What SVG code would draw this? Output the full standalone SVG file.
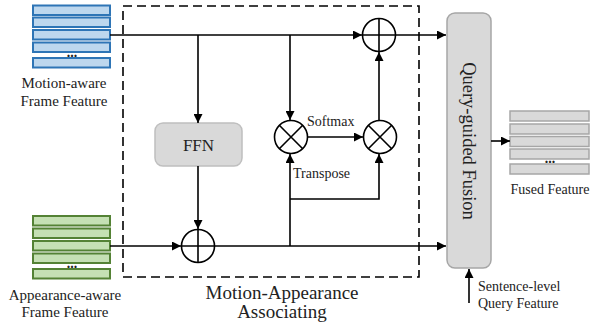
<svg xmlns="http://www.w3.org/2000/svg" width="615" height="329" viewBox="0 0 615 329">
<defs>
<marker id="ah" viewBox="0 0 10 10" refX="10" refY="5" markerWidth="9" markerHeight="9" markerUnits="userSpaceOnUse" orient="auto">
<path d="M0,0 L10,5 L0,10 z" fill="#000"/>
</marker>
</defs>
<style>
.t{font-family:"Liberation Serif","Times New Roman",serif;fill:#222}
.d{font-family:"Liberation Serif",serif;fill:#222;font-size:14px;font-weight:bold}
.bb{fill:#bdd7ee;stroke:#2e75b6;stroke-width:2}
.gb{fill:#c5e0b4;stroke:#548235;stroke-width:2}
.fb{fill:#d9d9d9;stroke:#a6a6a6;stroke-width:1.5}
.ln{fill:none;stroke:#000;stroke-width:1.6}
.op{fill:#fff;stroke:#000;stroke-width:1.6}
.box{fill:#d9d9d9;stroke:#bfbfbf;stroke-width:1.5}
</style>
<rect x="123" y="6" width="296" height="271" fill="none" stroke="#000" stroke-width="1.6" stroke-dasharray="9,5"/>
<g id="motion">
<rect class="bb" x="33" y="5.5" width="77" height="9.5"/>
<rect class="bb" x="33" y="17.5" width="77" height="9.5"/>
<rect class="bb" x="33" y="30" width="77" height="9.5"/>
<rect class="bb" x="33" y="42.5" width="77" height="9.5"/>
<rect class="bb" x="33" y="58" width="77" height="9.5"/>
<text class="d" x="72" y="57" text-anchor="middle">...</text>
<text class="t" x="64" y="88" font-size="15" text-anchor="middle">Motion-aware</text>
<text class="t" x="64" y="106" font-size="15" text-anchor="middle">Frame Feature</text>
</g>
<g id="appearance">
<rect class="gb" x="33" y="216" width="77" height="9.5"/>
<rect class="gb" x="33" y="228.5" width="77" height="9.5"/>
<rect class="gb" x="33" y="241" width="77" height="9.5"/>
<rect class="gb" x="33" y="253.5" width="77" height="9.5"/>
<rect class="gb" x="33" y="269" width="77" height="9.5"/>
<text class="d" x="72" y="268" text-anchor="middle">...</text>
<text class="t" x="65" y="300" font-size="15" text-anchor="middle">Appearance-aware</text>
<text class="t" x="65" y="317" font-size="15" text-anchor="middle">Frame Feature</text>
</g>
<g id="ffn">
<rect class="box" x="155" y="123" width="87" height="43" rx="8"/>
<text class="t" x="198.5" y="151" font-size="17" text-anchor="middle">FFN</text>
</g>
<g id="add1">
<circle class="op" cx="198" cy="246" r="16.5"/>
<path class="ln" d="M181.5,246 H214.5 M198,229.5 V262.5"/>
</g>
<g id="add2">
<circle class="op" cx="379" cy="35" r="16.5"/>
<path class="ln" d="M362.5,35 H395.5 M379,18.5 V51.5"/>
</g>
<g id="mul1">
<circle class="op" cx="291" cy="137" r="16.5"/>
<path class="ln" d="M279.3,125.3 L302.7,148.7 M302.7,125.3 L279.3,148.7"/>
</g>
<g id="mul2">
<circle class="op" cx="380" cy="137" r="16.5"/>
<path class="ln" d="M368.3,125.3 L391.7,148.7 M391.7,125.3 L368.3,148.7"/>
</g>
<g id="fusion">
<rect class="fb" x="447" y="13" width="44" height="255" rx="8"/>
<text class="t" transform="translate(469,141) rotate(90)" font-size="18.5" text-anchor="middle" dominant-baseline="central">Query-guided Fusion</text>
</g>
<g id="fused">
<rect class="fb" x="510" y="111" width="79" height="10"/>
<rect class="fb" x="510" y="124" width="79" height="10"/>
<rect class="fb" x="510" y="136.5" width="79" height="10"/>
<rect class="fb" x="510" y="149" width="79" height="10"/>
<rect class="fb" x="510" y="164" width="79" height="10"/>
<text class="d" x="550" y="163" text-anchor="middle">...</text>
<text class="t" x="550" y="194" font-size="14" text-anchor="middle">Fused Feature</text>
</g>
<g id="query">
<text class="t" x="478" y="291" font-size="14">Sentence-level</text>
<text class="t" x="478" y="308" font-size="14">Query Feature</text>
</g>
<g id="connectors">
<path class="ln" d="M110,35 H362" marker-end="url(#ah)"/>
<path class="ln" d="M198,35 V123" marker-end="url(#ah)"/>
<path class="ln" d="M290,35 V120" marker-end="url(#ah)"/>
<path class="ln" d="M198,166 V229" marker-end="url(#ah)"/>
<path class="ln" d="M110,246 H181" marker-end="url(#ah)"/>
<path class="ln" d="M214.5,246 H446" marker-end="url(#ah)"/>
<path class="ln" d="M290,246 V154" marker-end="url(#ah)"/>
<path class="ln" d="M290,199 H379 V154" marker-end="url(#ah)"/>
<path class="ln" d="M307.5,137 H363" marker-end="url(#ah)"/>
<path class="ln" d="M379,120.5 V52" marker-end="url(#ah)"/>
<path class="ln" d="M395.5,35 H446" marker-end="url(#ah)"/>
<path class="ln" d="M491,141 H510" marker-end="url(#ah)"/>
<path class="ln" d="M469,303 V269" marker-end="url(#ah)"/>
<text class="t" x="307" y="126" font-size="14">Softmax</text>
<text class="t" x="293" y="178" font-size="14">Transpose</text>
<text class="t" x="282" y="299" font-size="19" text-anchor="middle">Motion-Appearance</text>
<text class="t" x="282" y="318" font-size="19" text-anchor="middle">Associating</text>
</g>
</svg>
